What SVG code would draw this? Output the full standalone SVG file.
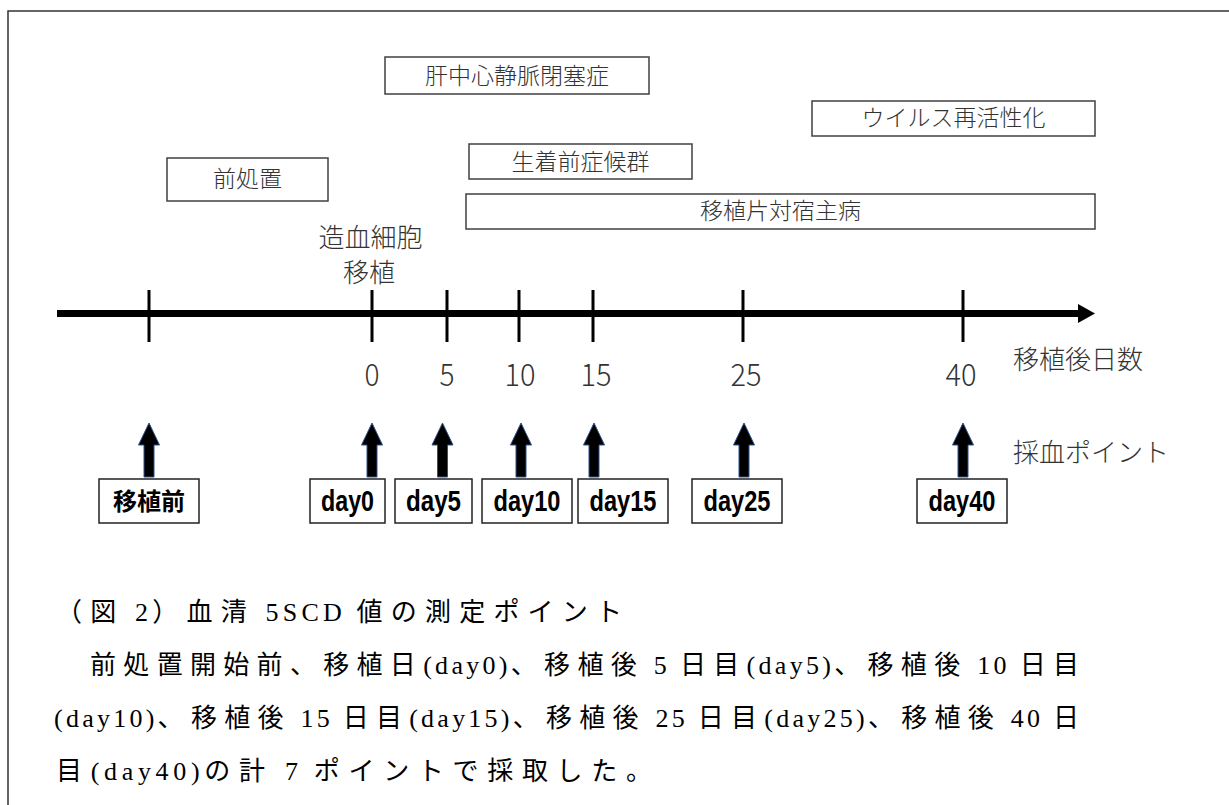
<svg xmlns="http://www.w3.org/2000/svg" xmlns:xlink="http://www.w3.org/1999/xlink" width="1229" height="805" viewBox="0 0 1229 805">
<style>
.frame{fill:none;stroke:#333;stroke-width:1.5}
.box{fill:#fff;stroke:#404040;stroke-width:1.5}
.dbox{fill:#fff;stroke:#222;stroke-width:1.5}
.lbl{font-family:"Noto Sans CJK JP",sans-serif;font-weight:300;fill:#333;font-size:23px;text-anchor:middle}
.num{font-family:"Noto Sans CJK JP",sans-serif;font-weight:300;fill:#333;font-size:31px;text-anchor:middle}
.side{font-family:"Noto Sans CJK JP",sans-serif;font-weight:300;fill:#333;font-size:26px}
.day{font-family:"Liberation Sans","Noto Sans CJK JP",sans-serif;font-weight:bold;fill:#000;font-size:30px;text-anchor:middle}
.dayj{font-family:"Noto Sans CJK JP",sans-serif;font-weight:bold;fill:#000;font-size:24px;text-anchor:middle}
.cap{font-family:"Liberation Serif","Noto Sans CJK JP",serif;fill:#000;font-size:26px}
.cj{letter-spacing:7px}
.lt{letter-spacing:3px}
.tick{stroke:#000;stroke-width:3}
.barr{fill:#000;stroke:#2F528F;stroke-width:1}
</style>
<defs>
<path id="up" d="M0,423 L10.5,445 L5,445 L5,477 L-5,477 L-5,445 L-10.5,445 Z"/>
</defs>
<rect width="1229" height="805" fill="#fff"/>
<path class="frame" d="M8,805 L8,11 L1229,11"/>

<g id="pretreat"><rect class="box" x="167" y="158" width="161" height="43"/><text class="lbl" x="247.5" y="187">前処置</text></g>
<g id="vod"><rect class="box" x="385" y="57" width="264" height="37"/><text class="lbl" x="517" y="84">肝中心静脈閉塞症</text></g>
<g id="pes"><rect class="box" x="469" y="144" width="223" height="35"/><text class="lbl" x="580.5" y="170">生着前症候群</text></g>
<g id="gvhd"><rect class="box" x="466" y="194" width="629" height="35"/><text class="lbl" x="780.5" y="219">移植片対宿主病</text></g>
<g id="virus"><rect class="box" x="812" y="101" width="283" height="35"/><text class="lbl" x="953.5" y="126">ウイルス再活性化</text></g>

<g id="hsct"><text class="side" x="370.5" y="247" text-anchor="middle">造血細胞</text><text class="side" x="369" y="282" text-anchor="middle">移植</text></g>

<g id="axis">
<line x1="57" y1="313.5" x2="1080" y2="313.5" stroke="#000" stroke-width="7"/>
<polygon points="1078,304 1095,313.5 1078,323" fill="#000"/>
<line class="tick" x1="149" y1="290" x2="149" y2="342"/>
<line class="tick" x1="372" y1="290" x2="372" y2="342"/>
<line class="tick" x1="447" y1="290" x2="447" y2="342"/>
<line class="tick" x1="519" y1="290" x2="519" y2="342"/>
<line class="tick" x1="593" y1="290" x2="593" y2="342"/>
<line class="tick" x1="743" y1="290" x2="743" y2="342"/>
<line class="tick" x1="963" y1="290" x2="963" y2="342"/>
<text class="num" x="372" y="386" textLength="15" lengthAdjust="spacingAndGlyphs">0</text>
<text class="num" x="447" y="386" textLength="15" lengthAdjust="spacingAndGlyphs">5</text>
<text class="num" x="520" y="386" textLength="31" lengthAdjust="spacingAndGlyphs">10</text>
<text class="num" x="596" y="386" textLength="31" lengthAdjust="spacingAndGlyphs">15</text>
<text class="num" x="746" y="386" textLength="31" lengthAdjust="spacingAndGlyphs">25</text>
<text class="num" x="961" y="386" textLength="31" lengthAdjust="spacingAndGlyphs">40</text>
<text class="side" x="1013" y="369">移植後日数</text>
<text class="side" x="1013" y="462">採血ポイント</text>
</g>

<g id="connectors">
<use href="#up" xlink:href="#up" class="barr" x="149"/>
<use href="#up" xlink:href="#up" class="barr" x="372"/>
<use href="#up" xlink:href="#up" class="barr" x="442.5"/>
<use href="#up" xlink:href="#up" class="barr" x="521"/>
<use href="#up" xlink:href="#up" class="barr" x="594"/>
<use href="#up" xlink:href="#up" class="barr" x="744"/>
<use href="#up" xlink:href="#up" class="barr" x="963"/>
</g>

<g id="pre"><rect class="dbox" x="99" y="479" width="100" height="44"/><text class="dayj" x="149" y="510">移植前</text></g>
<g id="day0"><rect class="dbox" x="310" y="479" width="75" height="44"/><text class="day" x="347.5" y="511" textLength="53" lengthAdjust="spacingAndGlyphs">day0</text></g>
<g id="day5"><rect class="dbox" x="395" y="479" width="77" height="44"/><text class="day" x="433.5" y="511" textLength="55" lengthAdjust="spacingAndGlyphs">day5</text></g>
<g id="day10"><rect class="dbox" x="482" y="479" width="90" height="44"/><text class="day" x="527" y="511" textLength="67" lengthAdjust="spacingAndGlyphs">day10</text></g>
<g id="day15"><rect class="dbox" x="578" y="479" width="90" height="44"/><text class="day" x="623" y="511" textLength="67" lengthAdjust="spacingAndGlyphs">day15</text></g>
<g id="day25"><rect class="dbox" x="692" y="479" width="90" height="44"/><text class="day" x="737" y="511" textLength="67" lengthAdjust="spacingAndGlyphs">day25</text></g>
<g id="day40"><rect class="dbox" x="917" y="479" width="90" height="44"/><text class="day" x="962" y="511" textLength="67" lengthAdjust="spacingAndGlyphs">day40</text></g>

<g id="caption">
<text class="cap" x="56" y="621" textLength="573" lengthAdjust="spacing"><tspan class="cj">（図</tspan><tspan class="lt"> 2</tspan><tspan class="cj">）血清</tspan><tspan class="lt"> 5SCD </tspan><tspan class="cj">値の測定ポイント</tspan></text>
<text class="cap" x="90" y="674" textLength="996" lengthAdjust="spacing"><tspan class="cj">前処置開始前、移植日</tspan><tspan class="lt">(day0)</tspan><tspan class="cj">、移植後</tspan><tspan class="lt"> 5 </tspan><tspan class="cj">日目</tspan><tspan class="lt">(day5)</tspan><tspan class="cj">、移植後</tspan><tspan class="lt"> 10 </tspan><tspan class="cj">日目</tspan></text>
<text class="cap" x="54" y="727" textLength="1032" lengthAdjust="spacing"><tspan class="lt">(day10)</tspan><tspan class="cj">、移植後</tspan><tspan class="lt"> 15 </tspan><tspan class="cj">日目</tspan><tspan class="lt">(day15)</tspan><tspan class="cj">、移植後</tspan><tspan class="lt"> 25 </tspan><tspan class="cj">日目</tspan><tspan class="lt">(day25)</tspan><tspan class="cj">、移植後</tspan><tspan class="lt"> 40 </tspan><tspan class="cj">日</tspan></text>
<text class="cap" x="56" y="780" textLength="603" lengthAdjust="spacing"><tspan class="cj">目</tspan><tspan class="lt">(day40)</tspan><tspan class="cj">の計</tspan><tspan class="lt"> 7 </tspan><tspan class="cj">ポイントで採取した。</tspan></text>
</g>
</svg>
